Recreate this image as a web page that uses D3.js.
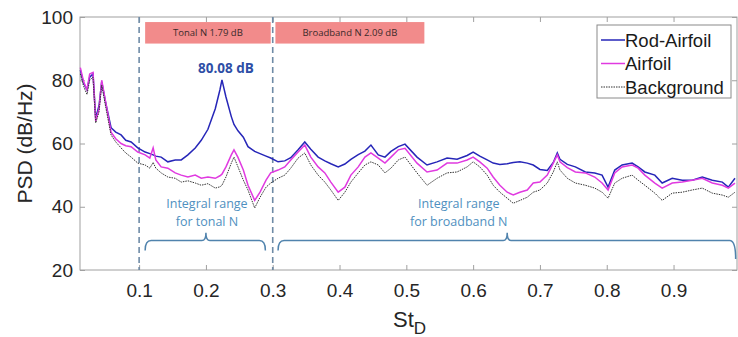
<!DOCTYPE html>
<html>
<head>
<meta charset="utf-8">
<script src="https://cdn.jsdelivr.net/npm/d3@7"></script>
<style>
  body { margin: 0; background: #fff; }
  svg { display: block; }
</style>
</head>
<body>
<script>
// Strouhal number grid (St_D) and PSD curves
const st = [0.012, 0.017, 0.022, 0.026, 0.031, 0.035, 0.040, 0.044, 0.050, 0.058,
  0.065, 0.073, 0.080, 0.088, 0.098, 0.109, 0.116, 0.121, 0.125, 0.133,
  0.143, 0.154, 0.163, 0.173, 0.184, 0.193, 0.203, 0.214, 0.221, 0.224,
  0.230, 0.238, 0.242, 0.248, 0.256, 0.263, 0.273, 0.281, 0.290, 0.297,
  0.308, 0.318, 0.327, 0.338, 0.348, 0.357, 0.368, 0.378, 0.387, 0.398,
  0.408, 0.417, 0.428, 0.438, 0.447, 0.458, 0.468, 0.477, 0.488, 0.498,
  0.516, 0.531, 0.546, 0.561, 0.576, 0.591, 0.600, 0.610, 0.621, 0.630,
  0.640, 0.651, 0.660, 0.670, 0.681, 0.690, 0.700, 0.711, 0.720, 0.726,
  0.730, 0.741, 0.753, 0.768, 0.782, 0.793, 0.802, 0.812, 0.823, 0.838,
  0.847, 0.857, 0.872, 0.883, 0.898, 0.913, 0.928, 0.943, 0.958, 0.973,
  0.982, 0.992];

const rodAirfoil = [83.2, 79, 77, 81, 82, 68, 72, 79.5, 72.8, 65,
  63.6, 62.7, 61, 60.5, 58.6, 57.3, 56.8, 56.4, 56, 55.7,
  54.2, 54.8, 54.8, 56.4, 58.6, 61, 64.5, 71, 77, 80.1,
  74.7, 68.5, 66, 64, 62, 59, 57.5, 56.8, 56, 55.4,
  54.2, 54.5, 55.5, 58, 60.5, 58.2, 55.7, 54.5, 53.6, 52.6,
  53.5, 55, 56.5, 57.6, 59.5, 56.4, 55.7, 57.5, 59, 59.8,
  55.7, 53.2, 54.2, 55.4, 55, 56.2, 57.3, 56, 54.8, 53.8,
  53.4, 53.6, 54, 54.2, 53.8, 53.2, 51.8, 51.5, 54, 57,
  55, 53.4, 52.6, 51, 50.7, 50, 46.2, 51.6, 53.2, 53.8,
  52.6, 51, 50, 47.5, 49, 48.4, 48.4, 49.4, 48.4, 47.8,
  46.2, 49];

const airfoil = [84, 79.5, 77, 82, 82.5, 67, 71, 80, 73, 63.6,
  61.5, 60, 59.3, 59, 57.3, 56.4, 55.4, 58.6, 54.8, 52.6,
  52.2, 50.7, 50, 49.4, 50, 49, 49.4, 49, 49.8, 50.3,
  52.6, 56.4, 58, 55.6, 51.6, 46.8, 42, 44.6, 48.4, 50.7,
  51.6, 52.6, 54.8, 57.3, 59.5, 55.7, 52.6, 50.7, 47.8, 44.6,
  46.2, 50, 52.6, 55.7, 57, 55.4, 53.8, 55.7, 58, 58.5,
  53.8, 51, 51.6, 53.8, 53.8, 54.8, 55.7, 54.2, 52.2, 49.4,
  46.8, 44.6, 43.7, 44.6, 45.3, 47.5, 47.8, 50, 53.8, 56.4,
  54.2, 52.4, 51, 50.7, 49.4, 47.5, 45.3, 50.7, 52.6, 53.2,
  52.2, 50, 47.5, 45.9, 47.5, 47.8, 48.4, 49, 47.5, 46.8,
  45.9, 47.5];

const background = [82, 78, 75.5, 80, 81, 66.5, 70, 78.5, 71.5, 62.7,
  60.5, 58.6, 57, 55.7, 53.8, 53.2, 52.2, 54, 52.2, 50.7,
  49.4, 49, 47.8, 48.2, 47.5, 46.8, 47.3, 45.9, 46.3, 46.8,
  49.4, 53.8, 55.7, 52.6, 48.4, 45.3, 39.6, 43, 46.2, 47.5,
  49, 50, 52.2, 55.4, 57, 53.2, 50, 47.8, 45.3, 42,
  44.6, 47.8, 50.7, 53.2, 54.2, 53.2, 50.7, 52.2, 54.8, 55.7,
  50.7, 46.8, 49, 50.7, 51, 52.6, 54.2, 52.6, 50, 46.8,
  44.6, 42.7, 41.1, 42, 43, 44.6, 45.3, 47.5, 51, 54.2,
  51.6, 49, 47.5, 46.8, 45.9, 44.6, 42.7, 47.5, 49, 50,
  48.4, 46.8, 44.3, 42, 44.3, 44.6, 45.3, 45.9, 44.3, 43.7,
  43, 44.6];

const xTicks = [0.1, 0.2, 0.3, 0.4, 0.5, 0.6, 0.7, 0.8, 0.9];
const yTicks = [20, 40, 60, 80, 100];
const seriesNames = ['Rod-Airfoil', 'Airfoil', 'Background'];
const tonalRange = [0.1, 0.3];
const peakLabel = '80.08 dB';
const boxLabels = ['Tonal N 1.79 dB', 'Broadband N 2.09 dB'];

const W = 738, H = 337;
const m = { left: 80, right: 1, top: 17, bottom: 67 };

const svg = d3.select('body').append('svg')
  .attr('width', W)
  .attr('height', H);

const x = d3.scaleLinear().domain([0.0115, 0.995]).range([m.left, W - m.right]);
const y = d3.scaleLinear().domain([20, 100]).range([H - m.bottom, m.top]);

const axisColor = '#a0a0a0';
const labelFont = '"Liberation Sans", Arial, sans-serif';
const noteFont = '"Open Sans", sans-serif';

// frame
svg.append('rect')
  .attr('x', x.range()[0]).attr('y', y.range()[1])
  .attr('width', x.range()[1] - x.range()[0])
  .attr('height', y.range()[0] - y.range()[1])
  .attr('fill', 'none').attr('stroke', axisColor).attr('stroke-width', 1);

function styleAxis(g, showText) {
  g.select('.domain').remove();
  g.selectAll('.tick line').attr('stroke', axisColor);
  g.selectAll('.tick text')
    .attr('fill', '#262626')
    .style('font-family', labelFont)
    .style('font-size', '19px')
    .style('display', showText ? null : 'none');
}

svg.append('g')
  .attr('transform', `translate(0,${y.range()[0]})`)
  .call(d3.axisBottom(x).tickValues(xTicks).tickSize(-5).tickPadding(14).tickFormat(d3.format('.1f')))
  .call(g => styleAxis(g, true));

svg.append('g')
  .attr('transform', `translate(0,${y.range()[1]})`)
  .call(d3.axisTop(x).tickValues(xTicks).tickSize(-5))
  .call(g => styleAxis(g, false));

svg.append('g')
  .attr('transform', `translate(${x.range()[0]},0)`)
  .call(d3.axisLeft(y).tickValues(yTicks).tickSize(-5).tickPadding(7))
  .call(g => styleAxis(g, true));

svg.append('g')
  .attr('transform', `translate(${x.range()[1]},0)`)
  .call(d3.axisRight(y).tickValues(yTicks).tickSize(-5))
  .call(g => styleAxis(g, false));

// axis titles
svg.append('text')
  .attr('transform', `translate(32,${(y.range()[0] + y.range()[1]) / 2}) rotate(-90)`)
  .attr('text-anchor', 'middle')
  .style('font-family', labelFont).style('font-size', '21px').attr('fill', '#262626')
  .text('PSD (dB/Hz)');

const xt = svg.append('text')
  .attr('x', 393).attr('y', 327)
  .style('font-family', labelFont).style('font-size', '22px').attr('fill', '#262626');
xt.append('tspan').text('St');
xt.append('tspan').attr('dy', 7).style('font-size', '17px').text('D');

// integral range markers
svg.selectAll('.range-line')
  .data(tonalRange)
  .join('line')
  .attr('x1', d => x(d)).attr('x2', d => x(d))
  .attr('y1', y(100)).attr('y2', y(20))
  .attr('stroke', '#6f8ba6').attr('stroke-width', 1.6)
  .attr('stroke-dasharray', '6,4');

// pink boxes
const boxes = [[0.109, 0.297], [0.304, 0.527]];
boxes.forEach((b, i) => {
  svg.append('rect')
    .attr('x', x(b[0])).attr('y', y(98.4))
    .attr('width', x(b[1]) - x(b[0])).attr('height', y(91.6) - y(98.4))
    .attr('fill', '#f28b8b');
  svg.append('text')
    .attr('x', (x(b[0]) + x(b[1])) / 2).attr('y', y(95))
    .attr('dy', '0.35em').attr('text-anchor', 'middle')
    .style('font-family', noteFont).style('font-size', '9.5px').attr('fill', '#3a2a2a')
    .text(boxLabels[i]);
});

// curves
const line = d3.line().x((d, i) => x(st[i])).y(d => y(d));

svg.append('path').datum(rodAirfoil)
  .attr('d', line).attr('fill', 'none')
  .attr('stroke', '#2626b8').attr('stroke-width', 1.5);

svg.append('path').datum(airfoil)
  .attr('d', line).attr('fill', 'none')
  .attr('stroke', '#e03ae0').attr('stroke-width', 1.5);

svg.append('path').datum(background)
  .attr('d', line).attr('fill', 'none')
  .attr('stroke', '#333').attr('stroke-width', 1)
  .attr('stroke-dasharray', '1.5,1');

// peak label: tonal peak inside the tonal integral range
let peakIdx = -1;
st.forEach((s, i) => {
  if (s >= tonalRange[0] && s <= tonalRange[1] && (peakIdx < 0 || rodAirfoil[i] > rodAirfoil[peakIdx])) peakIdx = i;
});
svg.append('text')
  .attr('x', x(st[peakIdx]) + 4).attr('y', y(rodAirfoil[peakIdx]) - 7)
  .attr('text-anchor', 'middle')
  .style('font-family', noteFont).style('font-weight', 'bold').style('font-size', '13.5px')
  .attr('fill', '#2e4ea6')
  .text(peakLabel);

// braces
function brace(x1, x2, xc, yh, tipL, tipR, top) {
  const p = d3.path();
  p.moveTo(x1, tipL);
  p.quadraticCurveTo(x1, yh, x1 + 6, yh);
  p.lineTo(xc - 4, yh);
  p.quadraticCurveTo(xc, yh, xc, top);
  p.quadraticCurveTo(xc, yh, xc + 4, yh);
  p.lineTo(x2 - 6, yh);
  p.quadraticCurveTo(x2, yh, x2, tipR);
  return p.toString();
}

const braceColor = '#5083ad';
svg.append('path')
  .attr('d', brace(x(0.109), x(0.289), x(0.2), y(29.3), y(26.2), y(26.2), y(31.8)))
  .attr('fill', 'none').attr('stroke', braceColor).attr('stroke-width', 1.5);

svg.append('path')
  .attr('d', brace(x(0.308), x(0.993), x(0.651), y(29.3), y(26.2), y(23.5), y(31.8)))
  .attr('fill', 'none').attr('stroke', braceColor).attr('stroke-width', 1.5);

const noteColor = '#4f90c0';
[[0.2, 'Integral range', 'for tonal N'], [0.577, 'Integral range', 'for broadband N']].forEach(n => {
  const t = svg.append('text')
    .attr('text-anchor', 'middle')
    .style('font-family', noteFont).style('font-size', '12.5px').attr('fill', noteColor);
  t.append('tspan').attr('x', x(n[0]) + 1).attr('y', 208).text(n[1]);
  t.append('tspan').attr('x', x(n[0]) + 1).attr('y', 226).text(n[2]);
});

// legend
const legend = svg.append('g').attr('transform', 'translate(597,25)');
legend.append('rect')
  .attr('width', 134).attr('height', 73)
  .attr('fill', '#fff').attr('stroke', '#8a8a8a').attr('stroke-width', 1);

const legendStyles = [
  { stroke: '#2626b8', width: 1.5, dash: null },
  { stroke: '#e03ae0', width: 1.5, dash: null },
  { stroke: '#333', width: 1, dash: '1.5,1' }
];

seriesNames.forEach((name, i) => {
  const yy = 15 + i * 23.5;
  legend.append('line')
    .attr('x1', 4).attr('x2', 28).attr('y1', yy).attr('y2', yy)
    .attr('stroke', legendStyles[i].stroke)
    .attr('stroke-width', legendStyles[i].width)
    .attr('stroke-dasharray', legendStyles[i].dash);
  legend.append('text')
    .attr('x', 28).attr('y', yy + 6.5)
    .style('font-family', labelFont).style('font-size', '18.5px').attr('fill', '#1a1a1a')
    .text(name);
});
</script>
</body>
</html>
